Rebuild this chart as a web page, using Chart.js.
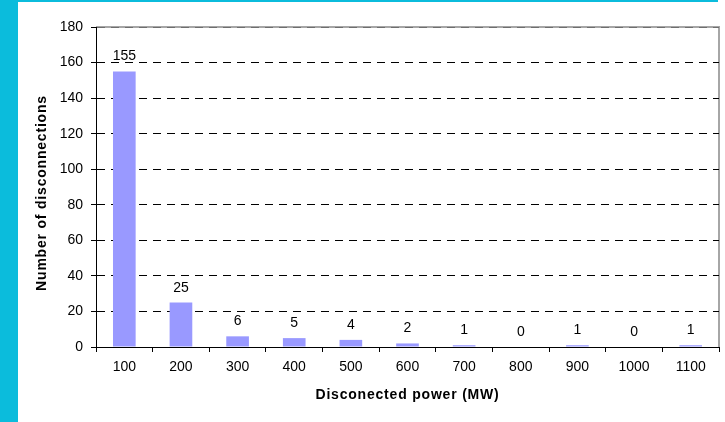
<!DOCTYPE html>
<html>
<head>
<meta charset="utf-8">
<title>Disconnections by disconnected power</title>
<script src="https://cdn.jsdelivr.net/npm/chart.js@4.4.1/dist/chart.umd.min.js"></script>
<style>
  html, body { margin: 0; padding: 0; background: #ffffff; width: 725px; height: 422px; overflow: hidden; }
  #wrap { position: relative; width: 725px; height: 422px; }
  .band-left { position: absolute; left: 0; top: 0; width: 18px; height: 422px; background: #0bbcdc; }
  .band-top { position: absolute; left: 0; top: 0; width: 718px; height: 2px; background: #0bbcdc; }
  canvas { position: absolute; left: 0; top: 0; }
</style>
</head>
<body>
<div id="wrap">
  <div class="band-left"></div>
  <div class="band-top"></div>
  <canvas id="chart" width="725" height="422"></canvas>
</div>
<script>
// Power classes (MW) and how many disconnections fell in each
const powerClasses = ['100', '200', '300', '400', '500', '600', '700', '800', '900', '1000', '1100'];
const disconnections = [155, 25, 6, 5, 4, 2, 1, 0, 1, 0, 1];
const countTicks = [0, 20, 40, 60, 80, 100, 120, 140, 160, 180];
const xTitle = 'Disconected power (MW)';
const yTitle = 'Number of disconnections';

const FONT = '"Liberation Sans", Arial, Helvetica, sans-serif';
Chart.defaults.font.family = FONT;
Chart.defaults.color = '#000000';

// Grey frame on the top and right edges of the plot area
const plotFrame = {
  id: 'plotFrame',
  beforeDraw(chart) {
    const { ctx, chartArea: a } = chart;
    ctx.save();
    ctx.strokeStyle = '#a6a6a6';
    ctx.lineWidth = 2;
    ctx.beginPath();
    ctx.moveTo(a.left, a.top);
    ctx.lineTo(a.right, a.top);
    ctx.lineTo(a.right, a.bottom);
    ctx.stroke();
    ctx.restore();
  }
};

// Count printed above each bar
const barValues = {
  id: 'barValues',
  afterDatasetsDraw(chart) {
    const { ctx } = chart;
    const meta = chart.getDatasetMeta(0);
    ctx.save();
    ctx.font = '14px ' + FONT;
    ctx.fillStyle = '#000000';
    ctx.textAlign = 'center';
    ctx.textBaseline = 'alphabetic';
    meta.data.forEach((bar, i) => {
      ctx.fillText(String(disconnections[i]), bar.x, bar.y - 11);
    });
    ctx.restore();
  }
};

// Spaced-out bold axis titles
const axisTitles = {
  id: 'axisTitles',
  afterDraw(chart) {
    const { ctx, chartArea: a } = chart;
    ctx.save();
    ctx.font = 'bold 14px ' + FONT;
    ctx.fillStyle = '#000000';
    ctx.textAlign = 'center';
    ctx.textBaseline = 'middle';
    ctx.letterSpacing = '0.8px';
    ctx.fillText(xTitle, (a.left + a.right) / 2, 395);
    ctx.translate(42, 193);
    ctx.rotate(-Math.PI / 2);
    ctx.fillText(yTitle, 0, 0);
    ctx.restore();
  }
};

new Chart(document.getElementById('chart'), {
  type: 'bar',
  data: {
    labels: powerClasses,
    datasets: [{
      data: disconnections,
      backgroundColor: '#9999ff',
      borderWidth: 0,
      categoryPercentage: 1.0,
      barPercentage: 0.4
    }]
  },
  options: {
    responsive: false,
    animation: false,
    devicePixelRatio: 1,
    layout: { padding: { top: 27, right: 6, left: 0, bottom: 0 } },
    plugins: {
      legend: { display: false },
      tooltip: { enabled: false },
      title: { display: false }
    },
    scales: {
      x: {
        type: 'category',
        offset: true,
        afterFit(scale) { scale.height = 75; },
        grid: {
          offset: true,
          drawOnChartArea: false,
          drawTicks: true,
          tickLength: 5,
          color: '#000000',
          tickColor: '#000000'
        },
        border: { display: true, color: '#000000', width: 1 },
        ticks: {
          font: { size: 14 },
          color: '#000000',
          padding: 7,
          maxRotation: 0,
          autoSkip: false
        }
      },
      y: {
        type: 'linear',
        min: 0,
        max: 180,
        afterFit(scale) { scale.width = 96; },
        afterBuildTicks(scale) { scale.ticks = countTicks.map(v => ({ value: v })); },
        grid: {
          color: ctx => ctx.tick && ctx.tick.value === 0 ? 'rgba(0,0,0,0)'
                      : (ctx.tick && ctx.tick.value === 180 ? '#6e6e6e' : '#000000'),
          lineWidth: 1,
          drawTicks: true,
          tickLength: 5,
          tickColor: '#000000',
          tickBorderDash: []
        },
        border: { display: true, color: '#000000', width: 1, dash: [8, 6] },
        ticks: {
          font: { size: 14 },
          color: '#000000',
          padding: 8
        }
      }
    }
  },
  plugins: [plotFrame, barValues, axisTitles]
});
</script>
</body>
</html>
